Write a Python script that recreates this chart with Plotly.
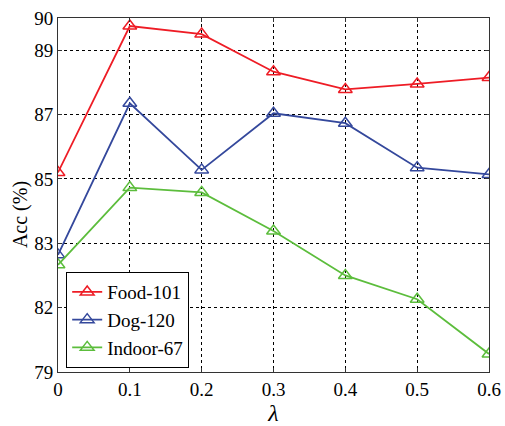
import plotly.graph_objects as go

lam = [0, 0.1, 0.2, 0.3, 0.4, 0.5, 0.6]
food101 = [85.2, 89.75, 89.5, 88.33, 87.78, 87.95, 88.15]
dog120 = [82.64, 87.35, 85.28, 87.04, 86.73, 85.35, 85.14]
indoor67 = [82.33, 84.73, 84.58, 83.38, 82.0, 81.26, 79.56]

y_tickvals = [79, 81, 83, 85, 87, 89, 90]
y_ticktext = ["79", "82", "83", "85", "87", "89", "90"]
x_tickvals = lam
x_ticktext = ["0", "0.1", "0.2", "0.3", "0.4", "0.5", "0.6"]

series = [
    ("Food-101", food101, "#ee1c25"),
    ("Dog-120", dog120, "#34489c"),
    ("Indoor-67", indoor67, "#5cbd3c"),
]

fig = go.Figure()
for name, vals, col in series:
    fig.add_trace(go.Scatter(
        x=lam, y=vals, name=name, mode="lines+markers",
        line=dict(color=col, width=1.8),
        marker=dict(symbol="triangle-up-open", size=12, color=col, line=dict(width=1.5, color=col)),
    ))

font_family = "Liberation Serif, Times New Roman, DejaVu Serif, serif"
axis_common = dict(
    showline=True, linecolor="#333", linewidth=1, mirror="ticks",
    ticks="inside", ticklen=4, tickcolor="#333",
    showgrid=True, gridcolor="black", griddash="dot", gridwidth=1,
    zeroline=False, automargin=False,
    tickfont=dict(family=font_family, size=19, color="black"),
)

fig.update_layout(
    width=505, height=426,
    margin=dict(l=58, r=16, t=18, b=54),
    paper_bgcolor="white", plot_bgcolor="white",
    font=dict(family=font_family, color="black"),
    xaxis=dict(range=[0, 0.6], tickvals=x_tickvals, ticktext=x_ticktext,
               title=dict(text="<i>λ</i>", font=dict(family=font_family, size=24), standoff=2),
               **axis_common),
    yaxis=dict(range=[79, 90], tickvals=y_tickvals, ticktext=y_ticktext,
               **axis_common),
    legend=dict(x=0.019, y=0.011, xanchor="left", yanchor="bottom",
                bgcolor="white", bordercolor="black", borderwidth=1,
                font=dict(family=font_family, size=19), tracegroupgap=0,
                itemwidth=30),
    showlegend=True,
    annotations=[dict(
        text="Acc (%)", xref="paper", yref="paper", x=-0.088, y=0.4435,
        xanchor="center", yanchor="middle", textangle=-90, showarrow=False,
        font=dict(family=font_family, size=20, color="black"),
    )],
)

fig.write_html("out.html", config={"displayModeBar": False},
               post_script="document.body.style.margin='0';document.body.style.overflow='hidden';")
